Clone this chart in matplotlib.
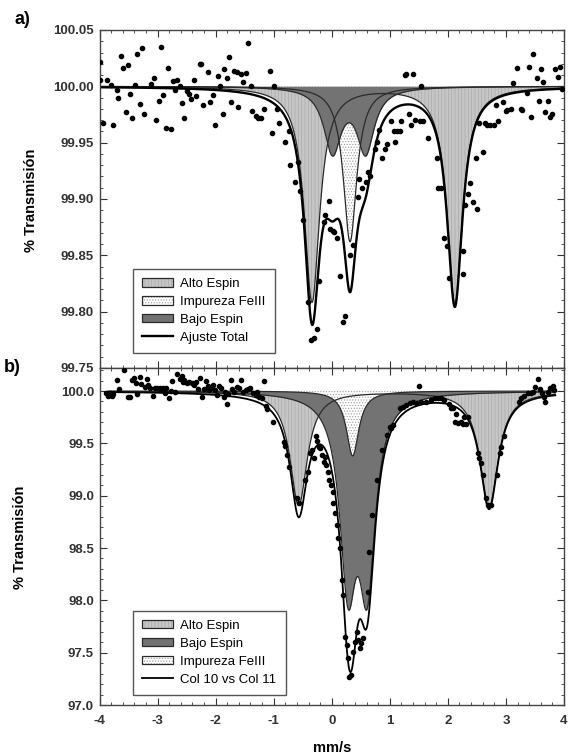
import numpy as np
import matplotlib
matplotlib.use("Agg")
import matplotlib.pyplot as plt
from matplotlib.patches import Patch
from matplotlib.lines import Line2D
from matplotlib.ticker import MultipleLocator

plt.rcParams['font.family'] = ['Liberation Sans', 'DejaVu Sans']
plt.rcParams['hatch.linewidth'] = 0.5

# ---- panel a: measured spectrum (mm/s, % transmision) ----
vel_a = [-3.99, -3.99, -3.94, -3.877, -3.803, -3.763, -3.706, -3.678, -3.632, -3.592,
         -3.552, -3.507, -3.478, -3.438, -3.392, -3.353, -3.307, -3.267, -3.233, -3.107,
         -3.062, -3.022, -2.982, -2.936, -2.908, -2.862, -2.822, -2.776, -2.736, -2.697,
         -2.662, -2.617, -2.577, -2.537, -2.491, -2.463, -2.423, -2.377, -2.337, -2.275,
         -2.25, -2.212, -2.137, -2.092, -2.052, -2.012, -1.966, -1.921, -1.881, -1.852,
         -1.807, -1.767, -1.727, -1.681, -1.635, -1.607, -1.567, -1.521, -1.481, -1.442,
         -1.396, -1.367, -1.31, -1.27, -1.22, -1.17, -1.071, -0.997, -1.037, -0.94,
         -0.911, -0.797, -0.729, -0.712, -0.638, -0.58, -0.541, -0.501, -0.409, -0.352,
         -0.312, -0.255, -0.227, -0.141, -0.113, -0.056, -0.027, 0.013, 0.047, 0.087,
         0.144, 0.201, 0.23, 0.315, 0.361, 0.446, 0.469, 0.526, 0.583, 0.629,
         0.657, 0.743, 0.771, 0.811, 0.868, 0.914, 0.96, 1.017, 1.074, 1.097,
         1.131, 1.171, 1.199, 1.256, 1.285, 1.325, 1.37, 1.399, 1.439, 1.513,
         1.57, 1.541, 1.655, 1.815, 1.838, 1.884, 1.929, 1.986, 2.026, 2.254,
         2.254, 2.294, 2.34, 2.386, 2.426, 2.483, 2.5, 2.54, 2.597, 2.637,
         2.682, 2.728, 2.796, 2.825, 2.865, 2.956, 2.996, 3.024, 3.082, 3.127,
         3.196, 3.253, 3.281, 3.355, 3.395, 3.435, 3.469, 3.527, 3.566, 3.606,
         3.641, 3.681, 3.72, 3.755, 3.795, 3.852, 3.891, 3.937, 3.965]
trans_a = [100.022, 100.006, 99.967, 100.006, 100.001, 99.966, 99.997, 99.990, 100.027, 100.016,
           99.977, 100.019, 99.993, 99.972, 100.001, 100.029, 99.984, 100.034, 99.975, 100.002,
           100.007, 99.970, 99.987, 100.035, 99.992, 99.963, 100.016, 99.962, 100.005, 99.997,
           100.006, 100.000, 99.985, 99.972, 99.996, 99.993, 99.989, 100.006, 99.991, 100.020,
           100.020, 99.983, 100.013, 99.986, 99.992, 99.966, 100.009, 100.000, 99.975, 100.015,
           100.007, 100.026, 99.986, 100.014, 100.013, 99.982, 100.011, 100.004, 100.012, 100.038,
           100.000, 99.978, 99.974, 99.972, 99.972, 99.980, 100.014, 100.000, 99.959, 99.980,
           99.967, 99.951, 99.960, 99.930, 99.915, 99.933, 99.907, 99.881, 99.809, 99.775,
           99.777, 99.785, 99.827, 99.880, 99.886, 99.898, 99.873, 99.872, 99.871, 99.865,
           99.832, 99.791, 99.796, 99.850, 99.859, 99.902, 99.918, 99.910, 99.915, 99.924,
           99.920, 99.944, 99.951, 99.961, 99.936, 99.944, 99.949, 99.969, 99.960, 99.951,
           99.960, 99.960, 99.969, 100.010, 100.011, 99.975, 99.966, 100.011, 99.970, 99.969,
           99.969, 100.000, 99.954, 99.936, 99.910, 99.910, 99.865, 99.858, 99.830, 99.854,
           99.833, 99.895, 99.904, 99.914, 99.897, 99.936, 99.891, 99.967, 99.942, 99.967,
           99.966, 99.966, 99.966, 99.983, 99.969, 99.986, 99.978, 99.979, 99.980, 100.003,
           100.016, 99.980, 99.979, 99.994, 100.017, 99.973, 100.029, 100.007, 99.987, 100.015,
           100.004, 99.977, 99.987, 99.973, 99.975, 100.015, 100.008, 100.017, 99.998]

# panel a: fitted Lorentzian sites (centre, half width, depth)
alto_a_pos = [-0.34, 2.12]
alto_a_hw = [0.16, 0.16]
alto_a_depth = [0.191, 0.193]
imp_a_pos = [0.315]
imp_a_hw = [0.14]
imp_a_depth = [0.138]
bajo_a_pos = [0.013, 0.583]
bajo_a_hw = [0.18, 0.18]
bajo_a_depth = [0.0568, 0.0568]

# ---- panel b: measured spectrum ----
vel_b = [-3.88, -3.85, -3.82, -3.792, -3.763, -3.706, -3.666, -3.575, -3.507, -3.478,
         -3.438, -3.404, -3.364, -3.347, -3.307, -3.278, -3.221, -3.176, -3.164, -3.136,
         -3.079, -3.05, -3.005, -2.965, -2.936, -2.908, -2.879, -2.851, -2.811, -2.776,
         -2.748, -2.708, -2.662, -2.622, -2.582, -2.565, -2.537, -2.491, -2.451, -2.411,
         -2.366, -2.337, -2.297, -2.263, -2.24, -2.206, -2.166, -2.137, -2.109, -2.08,
         -2.052, -2.012, -1.978, -1.938, -1.909, -1.864, -1.841, -1.807, -1.784, -1.738,
         -1.71, -1.681, -1.635, -1.596, -1.556, -1.521, -1.481, -1.442, -1.407, -1.35,
         -1.31, -1.282, -1.253, -1.196, -1.168, -1.14, -1.111, -1.008, -0.826, -0.797,
         -0.769, -0.74, -0.6, -0.569, -0.455, -0.415, -0.369, -0.341, -0.312, -0.267,
         -0.255, -0.227, -0.198, -0.17, -0.141, -0.113, -0.096, -0.073, -0.039, -0.016,
         0.018, 0.03, 0.058, 0.087, 0.115, 0.144, 0.173, 0.201, 0.23, 0.258,
         0.287, 0.298, 0.327, 0.361, 0.401, 0.429, 0.458, 0.486, 0.498, 0.543,
         0.629, 0.646, 0.686, 0.783, 0.857, 0.943, 1.0, 1.028, 1.057, 1.171,
         1.228, 1.285, 1.342, 1.399, 1.456, 1.496, 1.541, 1.627, 1.713, 1.77,
         1.827, 1.884, 1.941, 2.026, 2.055, 2.083, 2.14, 2.123, 2.169, 2.226,
         2.254, 2.283, 2.312, 2.34, 2.511, 2.54, 2.568, 2.597, 2.654, 2.694,
         2.739, 2.853, 2.899, 2.922, 2.968, 3.224, 3.264, 3.31, 3.378, 3.424,
         3.469, 3.509, 3.549, 3.595, 3.623, 3.652, 3.68, 3.72, 3.766, 3.812,
         3.823]
trans_b = [99.985, 99.950, 99.978, 99.955, 99.968, 100.105, 100.019, 100.201, 99.946, 99.939,
           100.105, 100.127, 100.073, 99.968, 100.137, 100.064, 100.041, 100.115, 100.057, 100.032,
           99.955, 100.025, 100.032, 100.025, 100.010, 100.032, 99.978, 100.025, 99.936, 100.000,
           100.095, 99.994, 100.159, 100.115, 100.143, 100.083, 100.105, 100.073, 100.089, 100.073,
           100.057, 100.089, 100.019, 100.127, 99.946, 100.019, 100.095, 100.051, 100.010, 100.032,
           100.057, 100.010, 99.962, 100.051, 100.032, 99.946, 99.994, 99.873, 99.968, 100.105,
           100.019, 99.994, 100.041, 100.025, 100.105, 99.987, 100.010, 100.019, 100.025, 99.978,
           99.962, 99.994, 99.946, 99.930, 100.095, 99.860, 99.828, 99.707, 99.516, 99.478,
           99.388, 99.277, 98.980, 98.930, 99.150, 99.229, 99.404, 99.436, 99.357, 99.573,
           99.522, 99.468, 99.452, 99.388, 99.325, 99.373, 99.293, 99.229, 99.150, 99.102,
           99.038, 98.927, 98.831, 98.720, 98.592, 98.497, 98.194, 98.051, 97.653, 97.573,
           97.446, 97.271, 97.287, 97.510, 97.605, 97.701, 97.621, 97.541, 97.589, 97.637,
           98.083, 98.465, 98.815, 99.150, 99.436, 99.580, 99.659, 99.643, 99.675, 99.834,
           99.850, 99.866, 99.882, 99.892, 99.882, 100.051, 99.892, 99.892, 99.914, 99.930,
           99.936, 99.930, 99.914, 99.873, 99.841, 99.834, 99.777, 99.701, 99.691, 99.701,
           99.682, 99.755, 99.682, 99.755, 99.404, 99.357, 99.309, 99.197, 98.974, 98.911,
           98.911, 99.197, 99.404, 99.468, 99.573, 99.892, 99.930, 99.955, 99.978, 99.978,
           99.994, 100.041, 100.115, 100.019, 99.978, 99.946, 99.898, 99.994, 100.025, 100.051,
           100.010]

# panel b: fitted Lorentzian sites
alto_b_pos = [-0.57, 2.71]
alto_b_hw = [0.18, 0.19]
alto_b_depth = [1.09, 1.105]
bajo_b_pos = [0.28, 0.61]
bajo_b_hw = [0.17, 0.17]
bajo_b_depth = [1.72, 1.72]
imp_b_pos = [0.36]
imp_b_hw = [0.13]
imp_b_depth = [0.62]


def lorentz(x, pos, hw, depth):
    out = np.zeros_like(x)
    for p, w, d in zip(pos, hw, depth):
        out += d / (1 + ((x - p) / w) ** 2)
    return out


ALTO_FC, ALTO_HC = '#c6c6c6', '#a9a9a9'
BAJO_FC = '#737373'
IMP_FC, IMP_HC = 'white', '#9c9c9c'
EDGE = '#2a2a2a'


def site(ax, x, dip, fc, hc, hatch):
    ax.fill_between(x, 100, 100 - dip, facecolor=fc, edgecolor=hc, hatch=hatch, linewidth=0)
    ax.plot(x, 100 - dip, color=EDGE, lw=0.9)


def handle(fc, hc, hatch):
    return (Patch(facecolor=fc, edgecolor=hc, hatch=hatch, linewidth=0),
            Patch(facecolor='none', edgecolor=EDGE, linewidth=0.9))


def style(ax):
    ax.tick_params(which='both', direction='in', top=True, right=True, colors='#333333')
    ax.tick_params(which='major', length=5, width=0.8, labelsize=9.5, pad=4)
    ax.tick_params(which='minor', length=2.5, width=0.6)
    for s in ax.spines.values():
        s.set_color('#444444')
        s.set_linewidth(1.0)
    ax.xaxis.set_minor_locator(MultipleLocator(0.2))


LEG = dict(loc='lower left', borderaxespad=0, fontsize=9.5, handlelength=2.3,
           handleheight=0.6, labelspacing=0.45, borderpad=0.7, handletextpad=0.6,
           fancybox=False, framealpha=1, edgecolor='#555555')

fig = plt.figure(figsize=(5.69, 7.55), dpi=100)
ax1 = fig.add_axes([0.1749, 0.5126, 0.8163, 0.4477])
ax2 = fig.add_axes([0.1749, 0.0662, 0.8163, 0.4464])

# ---- panel a ----
xa = np.linspace(-4, 4, 1601)
alto = lorentz(xa, alto_a_pos, alto_a_hw, alto_a_depth)
imp = lorentz(xa, imp_a_pos, imp_a_hw, imp_a_depth)
bajo = lorentz(xa, bajo_a_pos, bajo_a_hw, bajo_a_depth)
site(ax1, xa, alto, ALTO_FC, ALTO_HC, '|||||')
site(ax1, xa, imp, IMP_FC, IMP_HC, '......')
site(ax1, xa, bajo, BAJO_FC, BAJO_FC, None)
ax1.plot(xa, 100 - alto - imp - bajo, color='black', lw=1.7)
ax1.plot(vel_a, trans_a, 'o', ms=3, color='black', zorder=5)

ax1.set_xlim(-4, 4)
ax1.set_ylim(99.75, 100.05)
yt = [99.75, 99.80, 99.85, 99.90, 99.95, 100.00, 100.05]
ax1.set_yticks(yt, ['%.2f' % v for v in yt], fontweight='bold')
ax1.yaxis.set_minor_locator(MultipleLocator(0.01))
ax1.set_xticks(range(-4, 5))
ax1.set_xticklabels([])
style(ax1)

leg1 = ax1.legend([handle(ALTO_FC, ALTO_HC, '|||||'), handle(IMP_FC, IMP_HC, '......'),
                   handle(BAJO_FC, BAJO_FC, None), Line2D([], [], color='black', lw=1.7)],
                  ['Alto Espin', 'Impureza FeIII', 'Bajo Espin', 'Ajuste Total'],
                  bbox_to_anchor=(0.072, 0.044), **LEG)
leg1.get_frame().set_linewidth(1.0)

# ---- panel b ----
xb = np.linspace(-3.85, 3.85, 1541)
alto = lorentz(xb, alto_b_pos, alto_b_hw, alto_b_depth)
bajo = lorentz(xb, bajo_b_pos, bajo_b_hw, bajo_b_depth)
imp = lorentz(xb, imp_b_pos, imp_b_hw, imp_b_depth)
site(ax2, xb, alto, ALTO_FC, ALTO_HC, '|||||')
site(ax2, xb, bajo, BAJO_FC, BAJO_FC, None)
site(ax2, xb, imp, IMP_FC, IMP_HC, '......')
ax2.plot(xb, 100 - alto - bajo - imp, color='black', lw=1.3)
ax2.plot(vel_b, trans_b, 'o', ms=3, color='black', zorder=5)

ax2.set_xlim(-4, 4)
ax2.set_ylim(97.0, 100.22)
yt = [97.0, 97.5, 98.0, 98.5, 99.0, 99.5, 100.0]
ax2.set_yticks(yt, ['%.1f' % v for v in yt], fontweight='bold')
ax2.yaxis.set_minor_locator(MultipleLocator(0.1))
ax2.set_xticks(range(-4, 5), [str(v) for v in range(-4, 5)], fontweight='bold')
style(ax2)
ax2.tick_params(axis='x', pad=7)
ax2.set_xlabel('mm/s', fontsize=10.5, fontweight='bold', labelpad=10)

leg2 = ax2.legend([handle(ALTO_FC, ALTO_HC, '|||||'), handle(BAJO_FC, BAJO_FC, None),
                   handle(IMP_FC, IMP_HC, '......'), Line2D([], [], color='black', lw=1.3)],
                  ['Alto Espin', 'Bajo Espin', 'Impureza FeIII', 'Col 10 vs Col 11'],
                  bbox_to_anchor=(0.072, 0.03), **LEG)
leg2.get_frame().set_linewidth(1.0)

fig.text(31 / 569, 1 - 200 / 755, '% Transmisión', fontsize=10.5, fontweight='bold',
         rotation=90, ha='center', va='center')
fig.text(20 / 569, 1 - 537 / 755, '% Transmisión', fontsize=10.5, fontweight='bold',
         rotation=90, ha='center', va='center')
fig.text(22 / 569, 1 - 19 / 755, 'a)', fontsize=13, fontweight='bold', ha='center', va='center')
fig.text(12 / 569, 1 - 367 / 755, 'b)', fontsize=13, fontweight='bold', ha='center', va='center')

fig.savefig('out.png', dpi=100)
